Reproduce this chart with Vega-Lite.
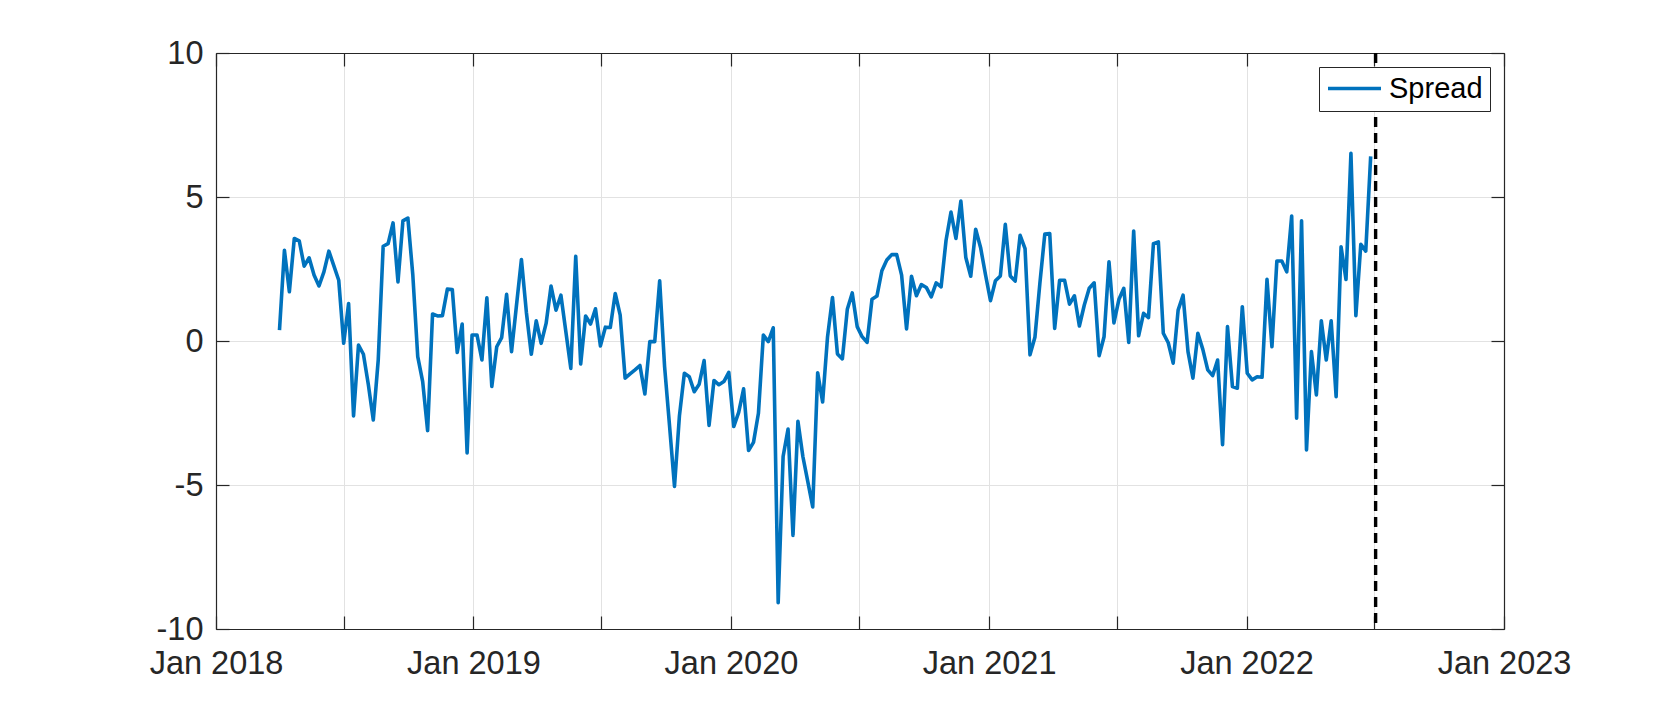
{
  "$schema": "https://vega.github.io/schema/vega-lite/v6.json",
  "width": 1288,
  "height": 576,
  "autosize": {"type": "none"},
  "padding": {"left": 216, "top": 53, "right": 157, "bottom": 78},
  "background": "white",
  "config": {
    "view": {"stroke": null},
    "font": "Liberation Sans",
    "axis": {
      "labelFont": "Liberation Sans",
      "labelFontSize": 32.5,
      "labelColor": "#262626",
      "domainColor": "#262626",
      "domainWidth": 1.2,
      "tickColor": "#262626",
      "tickWidth": 1.2,
      "gridColor": "#e2e2e2",
      "gridWidth": 1,
      "gridOpacity": 1
    }
  },
  "datasets": {
    "spread": [
      {"date": "2018-04-01", "value": 0.38},
      {"date": "2018-04-08", "value": 3.15},
      {"date": "2018-04-15", "value": 1.71},
      {"date": "2018-04-22", "value": 3.56},
      {"date": "2018-04-29", "value": 3.48},
      {"date": "2018-05-06", "value": 2.60},
      {"date": "2018-05-13", "value": 2.89},
      {"date": "2018-05-20", "value": 2.29},
      {"date": "2018-05-27", "value": 1.91},
      {"date": "2018-06-03", "value": 2.40},
      {"date": "2018-06-10", "value": 3.12},
      {"date": "2018-06-17", "value": 2.62},
      {"date": "2018-06-24", "value": 2.11},
      {"date": "2018-07-01", "value": -0.08},
      {"date": "2018-07-08", "value": 1.30},
      {"date": "2018-07-15", "value": -2.60},
      {"date": "2018-07-22", "value": -0.14},
      {"date": "2018-07-29", "value": -0.46},
      {"date": "2018-08-05", "value": -1.52},
      {"date": "2018-08-12", "value": -2.74},
      {"date": "2018-08-19", "value": -0.66},
      {"date": "2018-08-26", "value": 3.29},
      {"date": "2018-09-02", "value": 3.38},
      {"date": "2018-09-09", "value": 4.10},
      {"date": "2018-09-16", "value": 2.05},
      {"date": "2018-09-23", "value": 4.17},
      {"date": "2018-09-30", "value": 4.27},
      {"date": "2018-10-07", "value": 2.30},
      {"date": "2018-10-14", "value": -0.54},
      {"date": "2018-10-21", "value": -1.41},
      {"date": "2018-10-28", "value": -3.11},
      {"date": "2018-11-04", "value": 0.94},
      {"date": "2018-11-11", "value": 0.87},
      {"date": "2018-11-18", "value": 0.88},
      {"date": "2018-11-25", "value": 1.80},
      {"date": "2018-12-02", "value": 1.79},
      {"date": "2018-12-09", "value": -0.40},
      {"date": "2018-12-16", "value": 0.59},
      {"date": "2018-12-23", "value": -3.89},
      {"date": "2018-12-30", "value": 0.21},
      {"date": "2019-01-06", "value": 0.21},
      {"date": "2019-01-13", "value": -0.66},
      {"date": "2019-01-20", "value": 1.50},
      {"date": "2019-01-27", "value": -1.58},
      {"date": "2019-02-03", "value": -0.20},
      {"date": "2019-02-10", "value": 0.12},
      {"date": "2019-02-17", "value": 1.62},
      {"date": "2019-02-24", "value": -0.37},
      {"date": "2019-03-03", "value": 1.24},
      {"date": "2019-03-10", "value": 2.83},
      {"date": "2019-03-17", "value": 1.00},
      {"date": "2019-03-24", "value": -0.46},
      {"date": "2019-03-31", "value": 0.70},
      {"date": "2019-04-07", "value": -0.08},
      {"date": "2019-04-14", "value": 0.61},
      {"date": "2019-04-21", "value": 1.91},
      {"date": "2019-04-28", "value": 1.07},
      {"date": "2019-05-05", "value": 1.59},
      {"date": "2019-05-12", "value": 0.32},
      {"date": "2019-05-19", "value": -0.95},
      {"date": "2019-05-26", "value": 2.94},
      {"date": "2019-06-02", "value": -0.80},
      {"date": "2019-06-09", "value": 0.87},
      {"date": "2019-06-16", "value": 0.59},
      {"date": "2019-06-23", "value": 1.12},
      {"date": "2019-06-30", "value": -0.17},
      {"date": "2019-07-07", "value": 0.48},
      {"date": "2019-07-14", "value": 0.47},
      {"date": "2019-07-21", "value": 1.65},
      {"date": "2019-07-28", "value": 0.90},
      {"date": "2019-08-04", "value": -1.29},
      {"date": "2019-08-11", "value": -1.14},
      {"date": "2019-08-18", "value": -1.00},
      {"date": "2019-08-25", "value": -0.85},
      {"date": "2019-09-01", "value": -1.84},
      {"date": "2019-09-08", "value": -0.02},
      {"date": "2019-09-15", "value": -0.02},
      {"date": "2019-09-22", "value": 2.09},
      {"date": "2019-09-29", "value": -0.90},
      {"date": "2019-10-06", "value": -2.95},
      {"date": "2019-10-13", "value": -5.05},
      {"date": "2019-10-20", "value": -2.60},
      {"date": "2019-10-27", "value": -1.12},
      {"date": "2019-11-03", "value": -1.24},
      {"date": "2019-11-10", "value": -1.76},
      {"date": "2019-11-17", "value": -1.50},
      {"date": "2019-11-24", "value": -0.68},
      {"date": "2019-12-01", "value": -2.93},
      {"date": "2019-12-08", "value": -1.37},
      {"date": "2019-12-15", "value": -1.52},
      {"date": "2019-12-22", "value": -1.41},
      {"date": "2019-12-29", "value": -1.09},
      {"date": "2020-01-05", "value": -2.97},
      {"date": "2020-01-12", "value": -2.48},
      {"date": "2020-01-19", "value": -1.66},
      {"date": "2020-01-26", "value": -3.80},
      {"date": "2020-02-02", "value": -3.52},
      {"date": "2020-02-09", "value": -2.51},
      {"date": "2020-02-16", "value": 0.21},
      {"date": "2020-02-23", "value": -0.02},
      {"date": "2020-03-01", "value": 0.46},
      {"date": "2020-03-08", "value": -9.09},
      {"date": "2020-03-15", "value": -4.01},
      {"date": "2020-03-22", "value": -3.06},
      {"date": "2020-03-29", "value": -6.75},
      {"date": "2020-04-05", "value": -2.79},
      {"date": "2020-04-12", "value": -4.01},
      {"date": "2020-04-19", "value": -4.88},
      {"date": "2020-04-26", "value": -5.76},
      {"date": "2020-05-03", "value": -1.10},
      {"date": "2020-05-10", "value": -2.12},
      {"date": "2020-05-17", "value": 0.15},
      {"date": "2020-05-24", "value": 1.51},
      {"date": "2020-05-31", "value": -0.45},
      {"date": "2020-06-07", "value": -0.62},
      {"date": "2020-06-14", "value": 1.10},
      {"date": "2020-06-21", "value": 1.67},
      {"date": "2020-06-28", "value": 0.50},
      {"date": "2020-07-05", "value": 0.15},
      {"date": "2020-07-12", "value": -0.05},
      {"date": "2020-07-19", "value": 1.45},
      {"date": "2020-07-26", "value": 1.56},
      {"date": "2020-08-02", "value": 2.44},
      {"date": "2020-08-09", "value": 2.81},
      {"date": "2020-08-16", "value": 3.00},
      {"date": "2020-08-23", "value": 3.00},
      {"date": "2020-08-30", "value": 2.29},
      {"date": "2020-09-06", "value": 0.42},
      {"date": "2020-09-13", "value": 2.25},
      {"date": "2020-09-20", "value": 1.57},
      {"date": "2020-09-27", "value": 1.96},
      {"date": "2020-10-04", "value": 1.86},
      {"date": "2020-10-11", "value": 1.53},
      {"date": "2020-10-18", "value": 2.02},
      {"date": "2020-10-25", "value": 1.88},
      {"date": "2020-11-01", "value": 3.50},
      {"date": "2020-11-08", "value": 4.48},
      {"date": "2020-11-15", "value": 3.56},
      {"date": "2020-11-22", "value": 4.86},
      {"date": "2020-11-29", "value": 2.90},
      {"date": "2020-12-06", "value": 2.25},
      {"date": "2020-12-13", "value": 3.88},
      {"date": "2020-12-20", "value": 3.24},
      {"date": "2020-12-27", "value": 2.29},
      {"date": "2021-01-03", "value": 1.40},
      {"date": "2021-01-10", "value": 2.09},
      {"date": "2021-01-17", "value": 2.26},
      {"date": "2021-01-24", "value": 4.05},
      {"date": "2021-01-31", "value": 2.26},
      {"date": "2021-02-07", "value": 2.08},
      {"date": "2021-02-14", "value": 3.67},
      {"date": "2021-02-21", "value": 3.21},
      {"date": "2021-02-28", "value": -0.48},
      {"date": "2021-03-07", "value": 0.13},
      {"date": "2021-03-14", "value": 2.00},
      {"date": "2021-03-21", "value": 3.71},
      {"date": "2021-03-28", "value": 3.73},
      {"date": "2021-04-04", "value": 0.44},
      {"date": "2021-04-11", "value": 2.11},
      {"date": "2021-04-18", "value": 2.11},
      {"date": "2021-04-25", "value": 1.28},
      {"date": "2021-05-02", "value": 1.57},
      {"date": "2021-05-09", "value": 0.52},
      {"date": "2021-05-16", "value": 1.25},
      {"date": "2021-05-23", "value": 1.83},
      {"date": "2021-05-30", "value": 2.02},
      {"date": "2021-06-06", "value": -0.51},
      {"date": "2021-06-13", "value": 0.15},
      {"date": "2021-06-20", "value": 2.75},
      {"date": "2021-06-27", "value": 0.63},
      {"date": "2021-07-04", "value": 1.44},
      {"date": "2021-07-11", "value": 1.83},
      {"date": "2021-07-18", "value": -0.05},
      {"date": "2021-07-25", "value": 3.82},
      {"date": "2021-08-01", "value": 0.18},
      {"date": "2021-08-08", "value": 0.96},
      {"date": "2021-08-15", "value": 0.81},
      {"date": "2021-08-22", "value": 3.38},
      {"date": "2021-08-29", "value": 3.44},
      {"date": "2021-09-05", "value": 0.27},
      {"date": "2021-09-12", "value": -0.06},
      {"date": "2021-09-19", "value": -0.77},
      {"date": "2021-09-26", "value": 1.07},
      {"date": "2021-10-03", "value": 1.59},
      {"date": "2021-10-10", "value": -0.37},
      {"date": "2021-10-17", "value": -1.29},
      {"date": "2021-10-24", "value": 0.27},
      {"date": "2021-10-31", "value": -0.29},
      {"date": "2021-11-07", "value": -1.00},
      {"date": "2021-11-14", "value": -1.20},
      {"date": "2021-11-21", "value": -0.66},
      {"date": "2021-11-28", "value": -3.60},
      {"date": "2021-12-05", "value": 0.50},
      {"date": "2021-12-12", "value": -1.58},
      {"date": "2021-12-19", "value": -1.64},
      {"date": "2021-12-26", "value": 1.19},
      {"date": "2022-01-02", "value": -1.12},
      {"date": "2022-01-09", "value": -1.35},
      {"date": "2022-01-16", "value": -1.24},
      {"date": "2022-01-23", "value": -1.26},
      {"date": "2022-01-30", "value": 2.14},
      {"date": "2022-02-06", "value": -0.20},
      {"date": "2022-02-13", "value": 2.78},
      {"date": "2022-02-20", "value": 2.78},
      {"date": "2022-02-27", "value": 2.40},
      {"date": "2022-03-06", "value": 4.34},
      {"date": "2022-03-13", "value": -2.68},
      {"date": "2022-03-20", "value": 4.17},
      {"date": "2022-03-27", "value": -3.78},
      {"date": "2022-04-03", "value": -0.37},
      {"date": "2022-04-10", "value": -1.87},
      {"date": "2022-04-17", "value": 0.70},
      {"date": "2022-04-24", "value": -0.66},
      {"date": "2022-05-01", "value": 0.70},
      {"date": "2022-05-08", "value": -1.93},
      {"date": "2022-05-15", "value": 3.27},
      {"date": "2022-05-22", "value": 2.14},
      {"date": "2022-05-29", "value": 6.52},
      {"date": "2022-06-05", "value": 0.88},
      {"date": "2022-06-12", "value": 3.36},
      {"date": "2022-06-19", "value": 3.12},
      {"date": "2022-06-26", "value": 6.41}
    ],
    "marker": [
      {"date": "2022-07-03"}
    ]
  },
  "layer": [
    {
      "data": {"name": "spread"},
      "mark": {"type": "line", "strokeWidth": 3.6, "strokeJoin": "round"},
      "encoding": {
        "x": {
          "field": "date",
          "type": "temporal",
          "scale": {
            "type": "utc",
            "domain": [
              {"year": 2018, "month": 1, "date": 1, "utc": true},
              {"year": 2023, "month": 1, "date": 1, "utc": true}
            ]
          },
          "axis": {
            "orient": "bottom",
            "title": null,
            "values": [
              {"year": 2018, "month": 1, "date": 1, "utc": true},
              {"year": 2018, "month": 7, "date": 1, "utc": true},
              {"year": 2019, "month": 1, "date": 1, "utc": true},
              {"year": 2019, "month": 7, "date": 1, "utc": true},
              {"year": 2020, "month": 1, "date": 1, "utc": true},
              {"year": 2020, "month": 7, "date": 1, "utc": true},
              {"year": 2021, "month": 1, "date": 1, "utc": true},
              {"year": 2021, "month": 7, "date": 1, "utc": true},
              {"year": 2022, "month": 1, "date": 1, "utc": true},
              {"year": 2022, "month": 7, "date": 1, "utc": true},
              {"year": 2023, "month": 1, "date": 1, "utc": true}
            ],
            "grid": true,
            "tickSize": -13,
            "labelPadding": 31,
            "labelFlush": false,
            "labelOverlap": false,
            "labelBound": false,
            "labelExpr": "utcmonth(datum.value) == 0 ? utcFormat(datum.value, '%b %Y') : ''"
          }
        },
        "y": {
          "field": "value",
          "type": "quantitative",
          "scale": {"domain": [-10, 10], "nice": false, "zero": false},
          "axis": {
            "orient": "left",
            "title": null,
            "values": [-10, -5, 0, 5, 10],
            "grid": true,
            "tickSize": -13,
            "labelPadding": 26,
            "labelFlush": false,
            "labelOverlap": false,
            "labelBound": false,
            "labelExpr": "'' + datum.value"
          }
        },
        "color": {
          "datum": "Spread",
          "type": "nominal",
          "scale": {"range": ["#0072BD"]},
          "legend": {
            "title": null,
            "orient": "top-right",
            "offset": 14,
            "strokeColor": "#262626",
            "fillColor": "white",
            "padding": 7,
            "cornerRadius": 0,
            "symbolType": "stroke",
            "symbolSize": 2809,
            "symbolStrokeWidth": 3.6,
            "clipHeight": 29,
            "labelFont": "Liberation Sans",
            "labelFontSize": 29,
            "labelColor": "#000000",
            "labelOffset": 6
          }
        }
      }
    },
    {
      "data": {"name": "marker"},
      "mark": {"type": "rule", "color": "#000000", "strokeWidth": 3.4, "strokeDash": [10, 6]},
      "encoding": {
        "x": {
          "field": "date",
          "type": "temporal",
          "scale": {
            "type": "utc",
            "domain": [
              {"year": 2018, "month": 1, "date": 1, "utc": true},
              {"year": 2023, "month": 1, "date": 1, "utc": true}
            ]
          },
          "axis": {
            "orient": "top",
            "title": null,
            "values": [
              {"year": 2018, "month": 1, "date": 1, "utc": true},
              {"year": 2018, "month": 7, "date": 1, "utc": true},
              {"year": 2019, "month": 1, "date": 1, "utc": true},
              {"year": 2019, "month": 7, "date": 1, "utc": true},
              {"year": 2020, "month": 1, "date": 1, "utc": true},
              {"year": 2020, "month": 7, "date": 1, "utc": true},
              {"year": 2021, "month": 1, "date": 1, "utc": true},
              {"year": 2021, "month": 7, "date": 1, "utc": true},
              {"year": 2022, "month": 1, "date": 1, "utc": true},
              {"year": 2022, "month": 7, "date": 1, "utc": true},
              {"year": 2023, "month": 1, "date": 1, "utc": true}
            ],
            "grid": false,
            "labels": false,
            "tickSize": -13
          }
        },
        "y": {
          "datum": 10,
          "type": "quantitative",
          "scale": {"domain": [-10, 10], "nice": false, "zero": false},
          "axis": {
            "orient": "right",
            "title": null,
            "values": [-10, -5, 0, 5, 10],
            "grid": false,
            "labels": false,
            "tickSize": -13
          }
        },
        "y2": {"datum": -10}
      }
    }
  ],
  "resolve": {"axis": {"x": "independent", "y": "independent"}}
}
